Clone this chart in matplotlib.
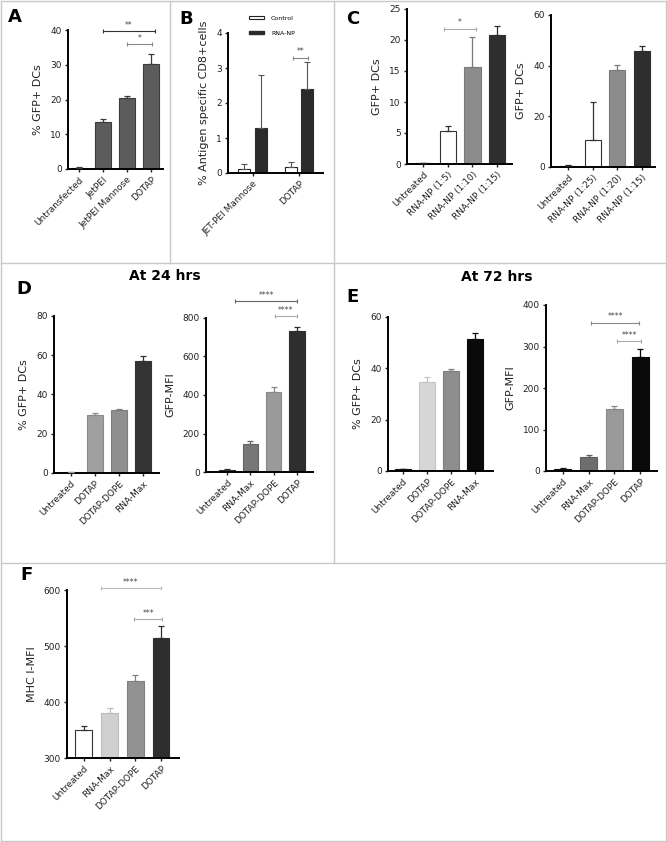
import matplotlib
matplotlib.use("Agg")
import matplotlib.pyplot as plt
from matplotlib.lines import Line2D
from matplotlib.patches import Patch

W, H = 667, 842

# ---- data ----
a_labels = ["Untransfected", "JetPEI", "JetPEI Mannose", "DOTAP"]
a_values = [0.4, 13.5, 20.5, 30.3]
a_errors = [0.3, 0.8, 0.5, 2.8]
a_sig = [(1, 3.15, 39.7, "**"), (2, 3.05, 36.0, "*")]

b_groups = ["JET-PEI Mannose", "DOTAP"]
b_control = [0.12, 0.18]
b_control_err = [0.15, 0.13]
b_rnanp = [1.28, 2.40]
b_rnanp_err = [1.52, 0.77]
b_sig = [(0.88, 1.2, 3.29, "**")]

c1_labels = ["Untreated", "RNA-NP (1:5)", "RNA-NP (1:10)", "RNA-NP (1:15)"]
c1_values = [0.1, 5.4, 15.6, 20.8]
c1_errors = [0.05, 0.7, 4.9, 1.4]
c1_sig = [(0.85, 2.15, 21.8, "*")]

c2_labels = ["Untreated", "RNA-NP (1:25)", "RNA-NP (1:20)", "RNA-NP (1:15)"]
c2_values = [0.5, 10.5, 38.2, 45.8]
c2_errors = [0.2, 15.0, 2.2, 2.0]

d1_labels = ["Untreated", "DOTAP", "DOTAP-DOPE", "RNA-Max"]
d1_values = [0.3, 29.5, 32.2, 57.0]
d1_errors = [0.1, 1.0, 0.6, 2.8]

d2_labels = ["Untreated", "RNA-Max", "DOTAP-DOPE", "DOTAP"]
d2_values = [12, 145, 415, 732]
d2_errors = [4, 15, 28, 22]
d2_sig = [(0.35, 3.0, 888, "****"), (2.05, 3.0, 810, "****")]

e1_labels = ["Untreated", "DOTAP", "DOTAP-DOPE", "RNA-Max"]
e1_values = [0.7, 34.5, 39.0, 51.5]
e1_errors = [0.2, 2.2, 0.7, 2.3]

e2_labels = ["Untreated", "RNA-Max", "DOTAP-DOPE", "DOTAP"]
e2_values = [6, 33, 150, 275]
e2_errors = [2, 5, 6, 18]
e2_sig = [(1.1, 2.95, 357, "****"), (2.1, 3.05, 313, "****")]

f_labels = ["Untreated", "RNA-Max", "DOTAP-DOPE", "DOTAP"]
f_values = [350, 380, 438, 515]
f_errors = [7, 10, 10, 20]
f_sig = [(0.65, 3.0, 603, "****"), (1.95, 3.05, 548, "***")]

plt.rcParams["font.family"] = ["DejaVu Sans"]

fig = plt.figure(figsize=(W / 100, H / 100), dpi=100)


def add_panel(left, right, top, bottom):
    """Axes placed by pixel edges of the spines."""
    return fig.add_axes([left / W, 1 - bottom / H, (right - left) / W, (bottom - top) / H])


def style(ax, ylim, yticks, ylabel, xlim):
    ax.set_ylim(*ylim)
    ax.set_xlim(*xlim)
    ax.set_yticks(yticks)
    for side in ("top", "right"):
        ax.spines[side].set_visible(False)
    for side in ("left", "bottom"):
        ax.spines[side].set_linewidth(1.4)
    ax.tick_params(direction="out", length=2.5, width=1.0, labelsize=6.5, pad=2, colors="#222222")
    ax.set_ylabel(ylabel, fontsize=8, labelpad=5, color="#222222")


def bars(ax, labels, values, errors, colors, edges, width=0.66):
    x = list(range(len(values)))
    ax.bar(x, values, width, color=colors, edgecolor=edges, linewidth=0.8, zorder=2)
    for xi, v, e, ec in zip(x, values, errors, edges):
        ax.errorbar(xi, v, yerr=[[0], [e]], fmt="none", ecolor=ec, elinewidth=0.9,
                    capsize=2.5, capthick=0.9, zorder=3)
    ax.set_xticks(x)
    ax.set_xticklabels(labels, rotation=45, ha="right", rotation_mode="anchor", fontsize=6.5)


def sig(ax, brackets, colors):
    for (x1, x2, y, text), c in zip(brackets, colors):
        ax.plot([x1, x2], [y, y], color=c, lw=0.8, clip_on=False, zorder=4)
        ax.plot([x1, x2], [y, y], ls="none", marker="|", ms=3, mew=0.8, color=c, clip_on=False)
        ax.annotate(text, (0.5 * (x1 + x2), y), xytext=(0, 1), textcoords="offset points",
                    ha="center", va="bottom", fontsize=5.5, color="#444444", annotation_clip=False)


# ---- panel A ----
ax = add_panel(68, 163, 30, 169)
bars(ax, a_labels, a_values, a_errors, ["#5c5c5c"] * 4, ["#3c3c3c"] * 4)
style(ax, (0, 40), [0, 10, 20, 30, 40], "% GFP+ DCs", (-0.46, 3.5))
sig(ax, a_sig, ["#333333", "#888888"])

# ---- panel B ----
ax = add_panel(228, 323, 33, 173)
off, bw = 0.18, 0.26
xg = list(range(len(b_groups)))
ax.bar([g - off for g in xg], b_control, bw, color="white", edgecolor="#222222", linewidth=0.8, zorder=2)
ax.bar([g + off for g in xg], b_rnanp, bw, color="#2b2b2b", edgecolor="#2b2b2b", linewidth=0.8, zorder=2)
ax.errorbar([g - off for g in xg], b_control, yerr=[[0] * 2, b_control_err], fmt="none",
            ecolor="#555555", elinewidth=0.8, capsize=2.2, capthick=0.8, zorder=3)
ax.errorbar([g + off for g in xg], b_rnanp, yerr=[[0] * 2, b_rnanp_err], fmt="none",
            ecolor="#555555", elinewidth=0.8, capsize=2.2, capthick=0.8, zorder=3)
ax.set_xticks(xg)
ax.set_xticklabels(b_groups, rotation=45, ha="right", rotation_mode="anchor", fontsize=6.5)
style(ax, (0, 4), [0, 1, 2, 3, 4], "% Antigen specific CD8+cells", (-0.53, 1.52))
sig(ax, b_sig, ["#888888"])
handles = [Patch(facecolor="white", edgecolor="#222222", linewidth=0.8, label="Control"),
           Patch(facecolor="#2b2b2b", edgecolor="#2b2b2b", label="RNA-NP")]
fig.legend(handles=handles, loc="upper left", bbox_to_anchor=(243 / W, 1 - 10 / H), frameon=False,
           fontsize=4.5, handlelength=2.4, handleheight=0.5, labelspacing=1.6, handletextpad=1.2)

# ---- panel C ----
ax = add_panel(407, 512, 9, 164)
bars(ax, c1_labels, c1_values, c1_errors, ["#222222", "white", "#8c8c8c", "#2e2e2e"],
     ["#222222", "#333333", "#7a7a7a", "#2e2e2e"])
style(ax, (0, 25), [0, 5, 10, 15, 20, 25], "GFP+ DCs", (-0.65, 3.6))
sig(ax, c1_sig, ["#aaaaaa"])

ax = add_panel(551, 655, 15, 167)
bars(ax, c2_labels, c2_values, c2_errors, ["#222222", "white", "#8c8c8c", "#2e2e2e"],
     ["#222222", "#333333", "#7a7a7a", "#2e2e2e"])
style(ax, (0, 60), [0, 20, 40, 60], "GFP+ DCs", (-0.69, 3.53))

# ---- panel D ----
ax = add_panel(54, 159, 316, 473)
bars(ax, d1_labels, d1_values, d1_errors, ["#999999", "#a0a0a0", "#8f8f8f", "#333333"],
     ["#999999", "#8a8a8a", "#7e7e7e", "#333333"])
style(ax, (0, 80), [0, 20, 40, 60, 80], "% GFP+ DCs", (-0.7, 3.67))

ax = add_panel(206, 313, 318, 472)
bars(ax, d2_labels, d2_values, d2_errors, ["#333333", "#777777", "#9a9a9a", "#2e2e2e"],
     ["#333333", "#666666", "#888888", "#2e2e2e"])
style(ax, (0, 800), [0, 200, 400, 600, 800], "GFP-MFI", (-0.9, 3.69))
sig(ax, d2_sig, ["#666666", "#aaaaaa"])

# ---- panel E ----
ax = add_panel(388, 493, 317, 471)
bars(ax, e1_labels, e1_values, e1_errors, ["#111111", "#d6d6d6", "#8e8e8e", "#0a0a0a"],
     ["#111111", "#c4c4c4", "#7e7e7e", "#0a0a0a"])
style(ax, (0, 60), [0, 20, 40, 60], "% GFP+ DCs", (-0.62, 3.75))

ax = add_panel(546, 657, 305, 471)
bars(ax, e2_labels, e2_values, e2_errors, ["#111111", "#6e6e6e", "#9a9a9a", "#0a0a0a"],
     ["#111111", "#5e5e5e", "#888888", "#0a0a0a"])
style(ax, (0, 400), [0, 100, 200, 300, 400], "GFP-MFI", (-0.66, 3.66))
sig(ax, e2_sig, ["#888888", "#aaaaaa"])

# ---- panel F ----
ax = add_panel(67, 179, 590, 758)
bars(ax, f_labels, f_values, f_errors, ["white", "#d0d0d0", "#929292", "#2e2e2e"],
     ["#333333", "#bdbdbd", "#808080", "#2e2e2e"])
style(ax, (300, 600), [300, 400, 500, 600], "MHC I-MFI", (-0.66, 3.7))
sig(ax, f_sig, ["#bbbbbb", "#aaaaaa"])

# ---- panel letters, titles, frame lines ----
for letter, px, py in [("A", 8, 8), ("B", 179, 10), ("C", 346, 10),
                       ("D", 16, 280), ("E", 346, 288), ("F", 20, 566)]:
    fig.text(px / W, 1 - py / H, letter, fontsize=13, fontweight="bold", va="top", ha="left")
fig.text(165 / W, 1 - 276 / H, "At 24 hrs", fontsize=10, fontweight="bold", ha="center", va="center")
fig.text(497 / W, 1 - 277 / H, "At 72 hrs", fontsize=10, fontweight="bold", ha="center", va="center")

frame = [((1, 1), (666, 1)), ((1, 841), (666, 841)), ((1, 1), (1, 841)), ((666, 1), (666, 841)),
         ((1, 263), (666, 263)), ((1, 563), (666, 563)), ((170, 1), (170, 263)),
         ((334, 1), (334, 563))]
for (x1, y1), (x2, y2) in frame:
    fig.add_artist(Line2D([x1 / W, x2 / W], [1 - y1 / H, 1 - y2 / H], color="#c8c8c8", lw=1.0))

fig.savefig("out.png", dpi=100)
